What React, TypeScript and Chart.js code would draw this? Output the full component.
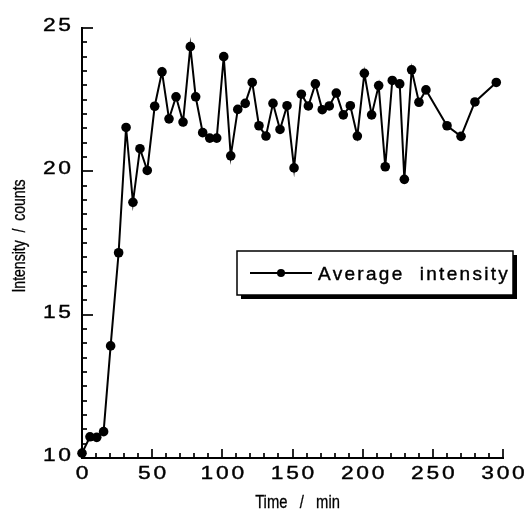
import React, { useEffect, useRef } from 'react';
import { Chart, registerables } from 'chart.js';

Chart.register(...registerables);

const times = [
  0, 5.7, 10.5, 15.4, 20.4, 26.1, 31.4, 36.3, 41.3, 46.5, 51.8, 57, 62, 67, 72, 77.2, 81, 86, 91, 96,
  101, 106, 111, 116.3, 121.3, 126.1, 131.1, 136.1, 141.1, 146.1, 151.1, 156.3, 161.3, 166.3, 171.2,
  176.2, 181.2, 186.2, 191.2, 196.2, 201.2, 206.4, 211.4, 216.1, 221.1, 226.4, 229.7, 234.9, 240.1,
  245.1, 260.1, 270.1, 280, 295.2,
];
const intensity = [
  10.17, 10.74, 10.72, 10.92, 13.91, 17.16, 21.53, 18.92, 20.79, 20.03, 22.27, 23.47, 21.83, 22.6,
  21.72, 24.35, 22.6, 21.35, 21.16, 21.16, 24.0, 20.54, 22.16, 22.37, 23.1, 21.59, 21.23, 22.37,
  21.46, 22.29, 20.12, 22.69, 22.28, 23.05, 22.15, 22.28, 22.73, 21.97, 22.29, 21.23, 23.42, 21.97,
  22.99, 20.16, 23.17, 23.05, 19.72, 23.54, 22.41, 22.84, 21.59, 21.22, 22.42, 23.1,
];
const xTickLabels = [0, 50, 100, 150, 200, 250, 300];
const yTickLabels = [10, 15, 20, 25];
const xTitle = 'Time   /   min';
const yTitle = 'Intensity  /  counts';
const seriesLabel = 'Average  intensity';

function drawText(
  ctx: CanvasRenderingContext2D,
  text: string,
  x: number,
  baseline: number,
  font: string,
  sx: number,
  spacing: number,
  align: 'left' | 'center' | 'right',
  stroke = 0
) {
  ctx.save();
  ctx.font = font;
  (ctx as any).letterSpacing = spacing + 'px';
  ctx.textAlign = 'left';
  ctx.textBaseline = 'alphabetic';
  const w = (ctx.measureText(text).width - (text.length ? spacing : 0)) * sx;
  const left = align === 'left' ? x : align === 'center' ? x - w / 2 : x - w;
  ctx.translate(left, baseline);
  ctx.scale(sx, 1);
  ctx.fillStyle = '#000';
  ctx.fillText(text, 0, 0);
  if (stroke > 0) {
    ctx.strokeStyle = '#000';
    ctx.lineWidth = stroke;
    ctx.strokeText(text, 0, 0);
  }
  ctx.restore();
}

const decorPlugin = {
  id: 'decor',
  afterDraw(chart: any) {
    const ctx: CanvasRenderingContext2D = chart.ctx;
    const xs = chart.scales.x;
    const ys = chart.scales.y;
    const area = chart.chartArea;
    ctx.save();
    ctx.strokeStyle = '#000';
    ctx.lineWidth = 1.7;
    for (let v = ys.min; v <= ys.max + 1e-6; v += 0.5) {
      const py = Math.round(ys.getPixelForValue(v));
      const major = Math.abs(v % 5) < 1e-6;
      const len = major ? 11 : 5;
      ctx.beginPath();
      ctx.moveTo(area.left, py);
      ctx.lineTo(area.left + len, py);
      ctx.stroke();
    }
    for (let v = xs.min; v <= xs.max + 1e-6; v += 10) {
      const px = Math.round(xs.getPixelForValue(v));
      const major = Math.abs(v % 50) < 1e-6;
      const len = major ? 9 : 5;
      ctx.beginPath();
      ctx.moveTo(px, area.bottom);
      ctx.lineTo(px, area.bottom - len);
      ctx.stroke();
    }
    ctx.restore();

    const tickFont = '19px "Liberation Sans", Arial, sans-serif';
    yTickLabels.forEach((v) => {
      const py = ys.getPixelForValue(v);
      drawText(ctx, String(v), 71, py + 3, tickFont, 1.2, 2.3, 'right', 0.4);
    });
    xTickLabels.forEach((v) => {
      const px = xs.getPixelForValue(v);
      drawText(ctx, String(v), px, 478.5, tickFont, 1.2, 2.3, 'center', 0.4);
    });

    const titleFont = '18px "Liberation Sans", Arial, sans-serif';
    drawText(ctx, xTitle, (area.left + area.right) / 2 + 5, 508, titleFont, 0.82, 0, 'center', 0.3);

    ctx.save();
    ctx.translate(25, 236);
    ctx.rotate(-Math.PI / 2);
    drawText(ctx, yTitle, 0, 0, titleFont, 0.78, 0, 'center', 0.3);
    ctx.restore();

    const bx = 237, by = 251, bw = 276, bh = 44;
    ctx.save();
    ctx.fillStyle = '#000';
    ctx.fillRect(bx + 4, by + 4, bw, bh);
    ctx.fillStyle = '#fff';
    ctx.fillRect(bx, by, bw, bh);
    ctx.strokeStyle = '#000';
    ctx.lineWidth = 1.5;
    ctx.strokeRect(bx, by, bw, bh);
    ctx.beginPath();
    ctx.lineWidth = 1.8;
    ctx.moveTo(250, 273);
    ctx.lineTo(312, 273);
    ctx.stroke();
    ctx.beginPath();
    ctx.arc(281, 273, 4, 0, Math.PI * 2);
    ctx.fillStyle = '#000';
    ctx.fill();
    ctx.restore();
    drawText(ctx, seriesLabel, 318, 280, '19px "Liberation Sans", Arial, sans-serif', 1, 2.3, 'left', 0.4);
  },
};

export default function App() {
  const ref = useRef<HTMLCanvasElement>(null);
  useEffect(() => {
    if (!ref.current) return;
    const chart = new Chart(ref.current, {
      type: 'line',
      data: {
        datasets: [
          {
            label: seriesLabel,
            data: times.map((t, i) => ({ x: t, y: intensity[i] })),
            borderColor: '#000',
            backgroundColor: '#000',
            borderWidth: 2,
            pointRadius: 4.8,
            pointBackgroundColor: '#000',
            pointBorderWidth: 0,
            tension: 0,
            clip: false as any,
          },
        ],
      },
      options: {
        responsive: false,
        animation: false,
        devicePixelRatio: 1,
        layout: { padding: { left: 0, top: 28, right: 22, bottom: 0 } },
        plugins: { legend: { display: false }, tooltip: { enabled: false } },
        scales: {
          x: {
            type: 'linear',
            min: 0,
            max: 300,
            grid: { display: false },
            border: { display: true, color: '#000', width: 2 },
            ticks: { display: false },
            afterFit: (s: any) => {
              s.height = 53;
            },
          },
          y: {
            type: 'linear',
            min: 10,
            max: 25,
            grid: { display: false },
            border: { display: true, color: '#000', width: 2 },
            ticks: { display: false },
            afterFit: (s: any) => {
              s.width = 82;
            },
          },
        },
      },
      plugins: [decorPlugin],
    });
    return () => chart.destroy();
  }, []);
  return (
    <div style={{ position: 'absolute', left: 0, top: 0, width: 525, height: 511, background: '#fff' }}>
      <canvas ref={ref} width={525} height={511} style={{ display: 'block' }} />
    </div>
  );
}
